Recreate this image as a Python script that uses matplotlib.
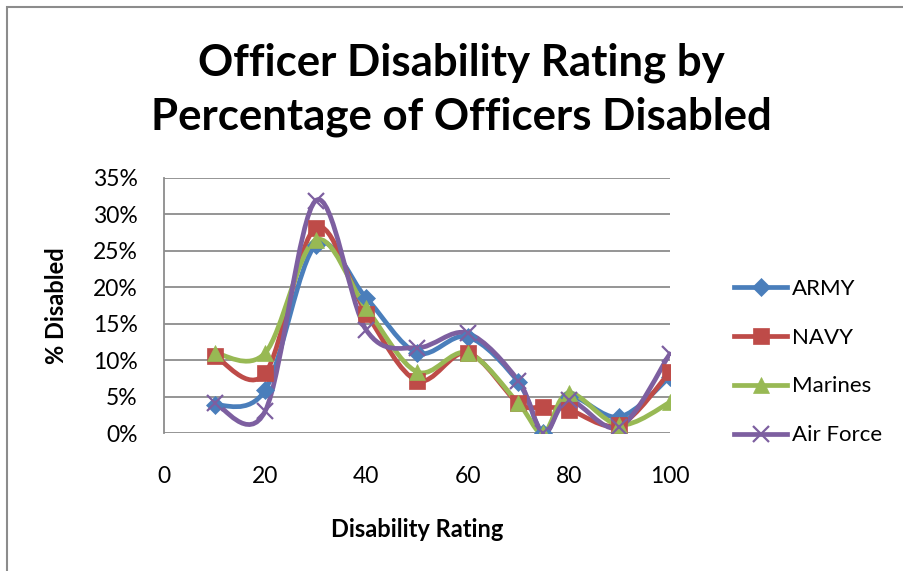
import matplotlib.pyplot as plt
from matplotlib.path import Path
from matplotlib.patches import PathPatch, Rectangle
from matplotlib.lines import Line2D
from matplotlib.ticker import PercentFormatter

plt.rcParams['font.family'] = ['Lato', 'DejaVu Sans']

# disability rating (x) and % of officers disabled per branch
ratings = [10, 20, 30, 40, 50, 60, 70, 75, 80, 90, 100]
army = [3.8, 5.9, 25.8, 18.5, 11.0, 13.2, 7.0, 0.0, 5.0, 2.2, 7.7]
navy = [10.6, 8.2, 28.2, 16.4, 7.2, 11.0, 4.1, 3.6, 3.2, 1.1, 8.4]
marines = [11.0, 11.0, 26.5, 17.1, 8.4, 11.0, 4.1, 0.0, 5.5, 1.1, 4.2]
air_force = [4.1, 3.0, 31.9, 14.1, 11.7, 13.7, 7.2, 0.0, 4.5, 0.8, 10.9]

names = ['ARMY', 'NAVY', 'Marines', 'Air Force']
series = [army, navy, marines, air_force]
colors = ['#4A7EBB', '#BE4B48', '#98B954', '#7D5FA0']
markers = ['D', 's', '^', 'x']
msizes = [9, 11, 12, 11]


def smooth_path(xs, ys):
    # catmull-rom style bezier, like excel's smoothed line
    pts = list(zip(xs, ys))
    verts = [pts[0]]
    codes = [Path.MOVETO]
    n = len(pts)
    for i in range(n - 1):
        p0 = pts[i - 1] if i > 0 else pts[i]
        p1 = pts[i]
        p2 = pts[i + 1]
        p3 = pts[i + 2] if i + 2 < n else pts[i + 1]
        c1 = (p1[0] + (p2[0] - p0[0]) / 6, p1[1] + (p2[1] - p0[1]) / 6)
        c2 = (p2[0] - (p3[0] - p1[0]) / 6, p2[1] - (p3[1] - p1[1]) / 6)
        verts += [c1, c2, p2]
        codes += [Path.CURVE4] * 3
    return Path(verts, codes)


fig = plt.figure(figsize=(9.04, 5.71), dpi=100)
fig.patches.append(Rectangle((7 / 904, -0.1), 1.2, 1 - 7 / 571 + 0.1,
                             transform=fig.transFigure, fill=False,
                             edgecolor='#8c8c8c', linewidth=1.5))

ax = fig.add_axes([164 / 904, 1 - 433 / 571, 506 / 904, 255 / 571])

handles = []
for ys, name, c, m, ms in zip(series, names, colors, markers, msizes):
    ax.add_patch(PathPatch(smooth_path(ratings, ys), fill=False,
                           edgecolor=c, linewidth=3.4, zorder=3,
                           capstyle='round', joinstyle='round'))
    ax.plot(ratings, ys, linestyle='none', marker=m, markersize=ms,
            color=c, markeredgewidth=1.6 if m == 'x' else 0.5, zorder=4)
    handles.append(Line2D([], [], color=c, linewidth=3.4, marker=m,
                          markersize=ms, markeredgewidth=1.6 if m == 'x' else 0.5,
                          label=name))

ax.set_xlim(0, 100)
ax.set_ylim(0, 35)
ax.set_xticks(range(0, 101, 20))
ax.set_yticks(range(0, 36, 5))
ax.yaxis.set_major_formatter(PercentFormatter(decimals=0))
ax.grid(axis='y', color='#8c8c8c', linewidth=1.3)
ax.set_axisbelow(True)
for s in ['top', 'right', 'bottom']:
    ax.spines[s].set_visible(False)
ax.spines['left'].set_color('#8c8c8c')
ax.spines['left'].set_linewidth(1.3)
ax.tick_params(axis='both', length=0, labelsize=16.5)
ax.tick_params(axis='y', pad=19)
ax.tick_params(axis='x', pad=24)

ax.set_xlabel('Disability Rating', fontsize=17, fontweight='bold', labelpad=22)
ax.set_ylabel('% Disabled', fontsize=17, fontweight='bold', labelpad=18)

fig.text(461 / 904, 1 - 90 / 571,
         'Officer Disability Rating by\nPercentage of Officers Disabled',
         ha='center', va='center', fontsize=31.5, fontweight='bold',
         linespacing=1.42)

fig.legend(handles=handles, loc='center left',
           bbox_to_anchor=(714 / 904, 1 - 362 / 571), frameon=False,
           fontsize=16, handlelength=2.4, labelspacing=1.3, handletextpad=0.2)

fig.savefig('out.png', dpi=100)
